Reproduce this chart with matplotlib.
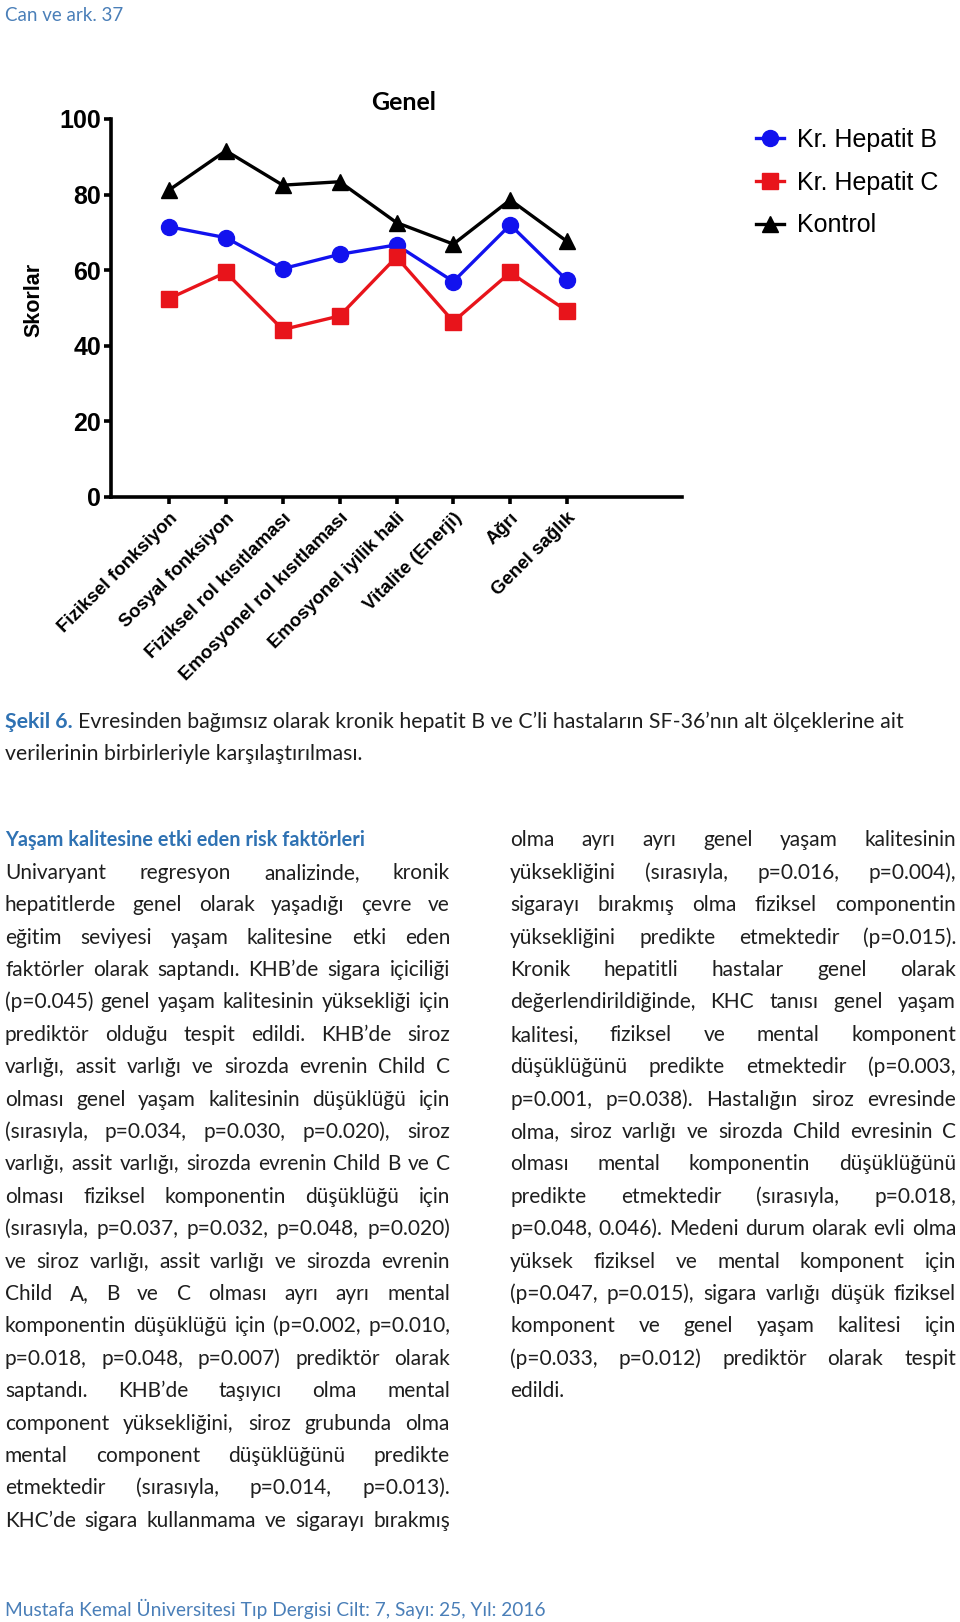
import matplotlib
matplotlib.use("Agg")
import matplotlib.pyplot as plt

W, H = 960, 1622

# ---------------- data ----------------
categories = ["Fiziksel fonksiyon", "Sosyal fonksiyon", "Fiziksel rol kısıtlaması",
              "Emosyonel rol kısıtlaması", "Emosyonel iyilik hali", "Vitalite (Enerji)",
              "Ağrı", "Genel sağlık"]
hepatit_b = [71.5, 68.6, 60.4, 64.2, 66.7, 57.0, 72.0, 57.3]
hepatit_c = [52.5, 59.4, 44.3, 47.9, 63.5, 46.4, 59.4, 49.2]
kontrol = [81.2, 91.6, 82.5, 83.4, 72.6, 66.9, 78.6, 67.6]
series_labels = ["Kr. Hepatit B", "Kr. Hepatit C", "Kontrol"]
y_ticks = [0, 20, 40, 60, 80, 100]

header_text = "Can ve ark. 37"
chart_title = "Genel"
y_label = "Skorlar"
caption_bold = "Şekil 6."
caption_line1 = "Evresinden bağımsız olarak kronik hepatit B ve C’li hastaların SF-36’nın alt ölçeklerine ait"
caption_line2 = "verilerinin birbirleriyle karşılaştırılması."
heading = "Yaşam kalitesine etki eden risk faktörleri"
left_lines = [
    "Univaryant regresyon analizinde, kronik",
    "hepatitlerde genel olarak yaşadığı çevre ve",
    "eğitim seviyesi yaşam kalitesine etki eden",
    "faktörler olarak saptandı. KHB’de sigara içiciliği",
    "(p=0.045) genel yaşam kalitesinin yüksekliği için",
    "prediktör olduğu tespit edildi. KHB’de siroz",
    "varlığı, assit varlığı ve sirozda evrenin Child C",
    "olması genel yaşam kalitesinin düşüklüğü için",
    "(sırasıyla, p=0.034, p=0.030, p=0.020), siroz",
    "varlığı, assit varlığı, sirozda evrenin Child B ve C",
    "olması fiziksel komponentin düşüklüğü için",
    "(sırasıyla, p=0.037, p=0.032, p=0.048, p=0.020)",
    "ve siroz varlığı, assit varlığı ve sirozda evrenin",
    "Child A, B ve C olması ayrı ayrı mental",
    "komponentin düşüklüğü için (p=0.002, p=0.010,",
    "p=0.018, p=0.048, p=0.007) prediktör olarak",
    "saptandı. KHB’de taşıyıcı olma mental",
    "component yüksekliğini, siroz grubunda olma",
    "mental component düşüklüğünü predikte",
    "etmektedir (sırasıyla, p=0.014, p=0.013).",
    "KHC’de sigara kullanmama ve sigarayı bırakmış",
]
right_lines = [
    "olma ayrı ayrı genel yaşam kalitesinin",
    "yüksekliğini (sırasıyla, p=0.016, p=0.004),",
    "sigarayı bırakmış olma fiziksel componentin",
    "yüksekliğini predikte etmektedir (p=0.015).",
    "Kronik hepatitli hastalar genel olarak",
    "değerlendirildiğinde, KHC tanısı genel yaşam",
    "kalitesi, fiziksel ve mental komponent",
    "düşüklüğünü predikte etmektedir (p=0.003,",
    "p=0.001, p=0.038). Hastalığın siroz evresinde",
    "olma, siroz varlığı ve sirozda Child evresinin C",
    "olması mental komponentin düşüklüğünü",
    "predikte etmektedir (sırasıyla, p=0.018,",
    "p=0.048, 0.046). Medeni durum olarak evli olma",
    "yüksek fiziksel ve mental komponent için",
    "(p=0.047, p=0.015), sigara varlığı düşük fiziksel",
    "komponent ve genel yaşam kalitesi için",
    "(p=0.033, p=0.012) prediktör olarak tespit",
    "edildi.",
]
footer_text = "Mustafa Kemal Üniversitesi Tıp Dergisi Cilt: 7, Sayı: 25, Yıl: 2016"

# ---------------- styles ----------------
BLUE_TXT = "#2f72b3"
BLUE_HDR = "#4a7fb8"
BODY = "#1e1e1e"
C_B = "#1212ee"
C_C = "#e8141b"
C_K = "#000000"
ARIAL = ["Liberation Sans", "DejaVu Sans"]
BODYF = ["Lato", "DejaVu Sans"]

fig = plt.figure(figsize=(W / 100, H / 100), dpi=100)
fig.patch.set_facecolor("white")
renderer = fig.canvas.get_renderer()


def fx(x):
    return x / W


def fy(y):
    return 1 - y / H


_cache = {}


def measure(s, size, weight="normal", family=BODYF):
    key = (s, size, weight, tuple(family))
    if key not in _cache:
        t = fig.text(0, 0, s, fontsize=size, fontweight=weight, family=family)
        _cache[key] = t.get_window_extent(renderer=renderer).width
        t.remove()
    return _cache[key]


def fit_size(s, target, base, weight="normal", family=BODYF):
    return base * target / measure(s, base, weight, family)


# ---------------- chart ----------------
ax = fig.add_axes([fx(111), fy(497), (682 - 111) / W, (497 - 119) / H])
x = list(range(len(categories)))
lw = 2.4
ax.plot(x, hepatit_b, color=C_B, marker="o", ms=11.5, lw=lw, label=series_labels[0], clip_on=False, zorder=3)
ax.plot(x, hepatit_c, color=C_C, marker="s", ms=11, lw=lw, label=series_labels[1], clip_on=False, zorder=3)
ax.plot(x, kontrol, color=C_K, marker="^", ms=11.5, lw=lw, label=series_labels[2], clip_on=False, zorder=3)
ax.set_xlim(-1.02, 9.02)
ax.set_ylim(0, 100)
ax.set_yticks(y_ticks)
ax.set_yticklabels([str(v) for v in y_ticks], fontsize=18, fontweight="bold", family=ARIAL)
ax.set_xticks(x)
ax.set_xticklabels(categories, rotation=45, ha="right", va="top", rotation_mode="anchor",
                   fontsize=13.5, fontweight="bold", family=ARIAL)
for s in ("top", "right"):
    ax.spines[s].set_visible(False)
for s in ("left", "bottom"):
    ax.spines[s].set_linewidth(2.6)
ax.tick_params(direction="out", length=5, width=2.6, pad=2)
ax.tick_params(axis="x", pad=4)
ax.set_ylabel(y_label, fontsize=15.5, fontweight="bold", family=ARIAL)
ax.yaxis.set_label_coords((44 - 111) / 571, (497 - 300) / 378)
ax.text((404 - 111) / 571, (497 - 102) / 378, chart_title, transform=ax.transAxes,
        ha="center", va="center", fontsize=18, fontweight="bold", family=BODYF)
fig.legend(loc="upper left", bbox_to_anchor=(fx(756), fy(128)), frameon=False,
           prop={"family": ARIAL, "size": 18}, handlelength=1.1, handletextpad=0.55,
           labelspacing=0.75, borderpad=0, borderaxespad=0)

# ---------------- page text ----------------
hs = fit_size(header_text, 119, 14)
fig.text(fx(5), fy(21), header_text, fontsize=hs, color=BLUE_HDR, family=BODYF, va="baseline")

# caption
cap_full = caption_bold + " " + caption_line1
cs = fit_size(cap_full, 898, 14)
fig.text(fx(5), fy(728), caption_bold, fontsize=cs, fontweight="bold", color=BLUE_TXT,
         family=BODYF, va="baseline")
bw = measure(caption_bold, cs, "bold")
sp = measure("a a", cs) - measure("aa", cs)
fig.text(fx(5 + bw + sp), fy(728), caption_line1, fontsize=cs, color=BODY, family=BODYF, va="baseline")
fig.text(fx(5), fy(760), caption_line2, fontsize=cs, color=BODY, family=BODYF, va="baseline")

# body columns
LINE0 = 840
STEP = 32.4
BASE_OFF = 6.5
col_left = (5, 450)
col_right = (510, 956)
MIN_GAP = 0.45

base = 15.0
sp_base = measure("a a", base) - measure("aa", base)
ks = []
for lines, (x0, x1) in ((left_lines, col_left), (right_lines[:-1], col_right)):
    for ln in lines:
        words = ln.split(" ")
        sw = sum(measure(w_, base) for w_ in words)
        ks.append((x1 - x0) / (sw + (len(words) - 1) * MIN_GAP * sp_base))
body_size = base * min(1.0, min(ks) * 0.998)

hsz = fit_size(heading, 359, body_size, "bold")
fig.text(fx(5), fy(LINE0 + BASE_OFF), heading, fontsize=hsz, fontweight="bold",
         color=BLUE_TXT, family=BODYF, va="baseline")

space_w = measure("a a", body_size) - measure("aa", body_size)


def draw_column(lines, x0, x1, first_row, justify_last):
    for i, ln in enumerate(lines):
        y = LINE0 + (first_row + i) * STEP + BASE_OFF
        words = ln.split(" ")
        widths = [measure(w_, body_size) for w_ in words]
        last = (i == len(lines) - 1) and not justify_last
        if len(words) > 1 and not last:
            gap = ((x1 - x0) - sum(widths)) / (len(words) - 1)
        else:
            gap = space_w
        xp = x0
        for w_, ww in zip(words, widths):
            fig.text(fx(xp), fy(y), w_, fontsize=body_size, color=BODY, family=BODYF,
                     va="baseline", ha="left")
            xp += ww + gap


draw_column(left_lines, col_left[0], col_left[1], 1, True)
draw_column(right_lines, col_right[0], col_right[1], 0, False)

fs_ = fit_size(footer_text, 540, 14)
fig.text(fx(5), fy(1616), footer_text, fontsize=fs_, color=BLUE_HDR, family=BODYF, va="baseline")

fig.savefig("out.png", dpi=100, facecolor="white")
